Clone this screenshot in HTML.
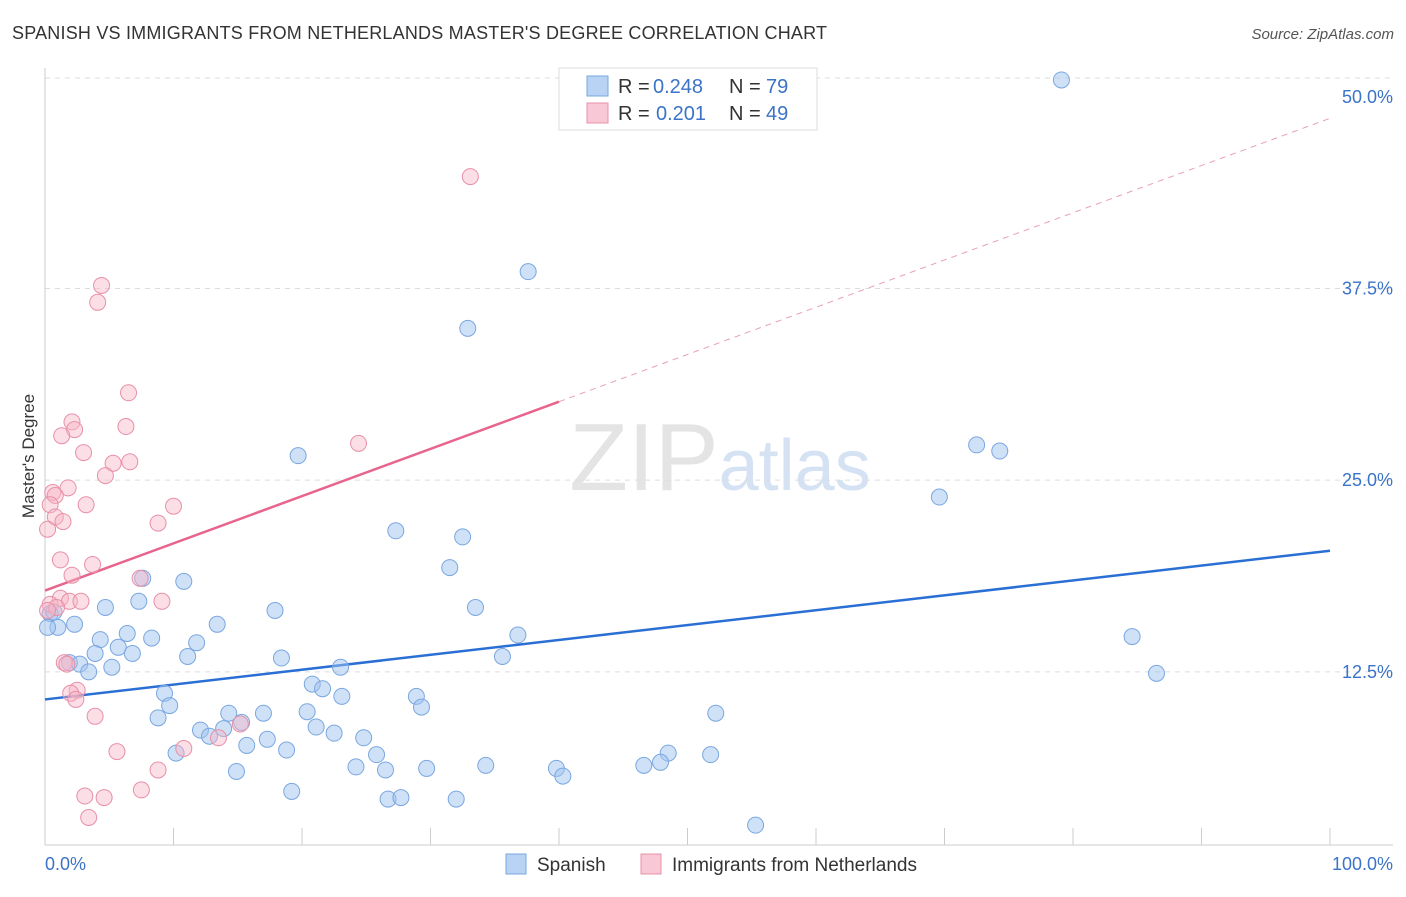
<!DOCTYPE html>
<html><head><meta charset="utf-8"><style>
body{margin:0;background:#fff;font-family:"Liberation Sans",sans-serif;}
svg text{font-family:"Liberation Sans",sans-serif;}
</style></head><body>
<svg id="chart" width="1406" height="892" xmlns="http://www.w3.org/2000/svg">
<text x="12" y="39" font-size="18" fill="#333" textLength="815">SPANISH VS IMMIGRANTS FROM NETHERLANDS MASTER'S DEGREE CORRELATION CHART</text>
<text x="1394" y="39" font-size="15" fill="#555" text-anchor="end" font-style="italic">Source: ZipAtlas.com</text>
<text x="720" y="490" font-size="96" text-anchor="middle" fill="#e4e4e4" font-family="Liberation Serif">ZIP<tspan fill="#d4e2f4" font-family="Liberation Sans" font-size="72">atlas</tspan></text>
<g id="grid"></g><g id="axes"></g><g id="trend"></g><g id="pts"></g>
<text transform="translate(34,456) rotate(-90)" font-size="17" fill="#333" text-anchor="middle">Master's Degree</text>
<g>
<rect x="559" y="68" width="258" height="62" fill="#fff" stroke="#ddd"/>
<rect x="587" y="76" width="21" height="20" fill="#b8d3f4" stroke="#7aa7e0"/>
<rect x="587" y="103" width="21" height="20" fill="#f9c8d6" stroke="#e890a8"/>
<text x="618" y="93" font-size="20" fill="#333">R =</text>
<text x="653" y="93" font-size="20" fill="#3b73c8">0.248</text>
<text x="729" y="93" font-size="20" fill="#333">N =</text>
<text x="766" y="93" font-size="20" fill="#3b73c8">79</text>
<text x="618" y="120" font-size="20" fill="#333">R =</text>
<text x="656" y="120" font-size="20" fill="#3b73c8">0.201</text>
<text x="729" y="120" font-size="20" fill="#333">N =</text>
<text x="766" y="120" font-size="20" fill="#3b73c8">49</text>
</g>
<g>
<rect x="506" y="854" width="20" height="20" fill="#b8d3f4" stroke="#7aa7e0"/>
<text x="537" y="871" font-size="19" fill="#333">Spanish</text>
<rect x="641" y="854" width="20" height="20" fill="#f9c8d6" stroke="#e890a8"/>
<text x="672" y="871" font-size="19" fill="#333">Immigrants from Netherlands</text>
</g>
</svg>
<script>
const blueX=[79.1,37.6,32.9,72.5,74.3,19.7,69.6,27.3,32.5,31.5,7.6,10.8,4.7,7.3,17.9,33.5,0.4,0.7,1.0,2.3,0.2,13.4,6.4,8.3,4.3,11.8,36.8,84.6,5.7,3.9,6.8,11.1,1.9,2.7,3.4,5.2,18.4,23.0,35.6,86.5,20.8,21.6,9.3,23.1,28.9,9.7,29.3,20.4,8.8,17.0,14.3,15.3,21.1,12.1,13.9,22.5,12.8,24.8,17.3,15.7,18.8,25.8,10.2,52.2,48.5,51.8,47.9,46.6,24.2,26.5,29.7,34.3,39.8,40.3,14.9,19.2,26.7,27.7,32.0,55.3];
const blueY=[51.1,38.6,34.9,27.3,26.9,26.6,23.9,21.7,21.3,19.3,18.6,18.4,16.7,17.1,16.5,16.7,16.3,16.4,15.4,15.6,15.4,15.6,15.0,14.7,14.6,14.4,14.9,14.8,14.1,13.7,13.7,13.5,13.1,13.0,12.5,12.8,13.4,12.8,13.5,12.4,11.7,11.4,11.1,10.9,10.9,10.3,10.2,9.9,9.5,9.8,9.8,9.2,8.9,8.7,8.8,8.5,8.3,8.2,8.1,7.7,7.4,7.1,7.2,9.8,7.2,7.1,6.6,6.4,6.3,6.1,6.2,6.4,6.2,5.7,6.0,4.7,4.2,4.3,4.2,2.5];
const pinkX=[33.1,4.4,4.1,6.5,6.3,2.1,2.3,1.3,24.4,3.0,5.3,6.6,4.7,0.6,1.8,0.8,3.2,10.0,0.4,0.8,1.4,8.8,0.2,1.2,3.7,2.1,7.4,1.2,1.9,2.8,9.1,0.4,0.9,0.2,1.5,1.7,2.5,2.0,2.4,3.9,10.8,13.5,15.2,5.6,8.8,7.5,3.1,4.6,3.4];
const pinkY=[44.8,37.7,36.6,30.7,28.5,28.8,28.3,27.9,27.4,26.8,26.1,26.2,25.3,24.2,24.5,24.0,23.4,23.3,23.4,22.6,22.3,22.2,21.8,19.8,19.5,18.8,18.6,17.3,17.1,17.1,17.1,16.9,16.7,16.5,13.1,13.0,11.3,11.1,10.7,9.6,7.5,8.2,9.1,7.3,6.1,4.8,4.4,4.3,3.0];
const blueTrend=[10.7,20.4];
const pinkTrend=[17.8,48.6];
const yTicks=[12.5,25,37.5,50];
const yTickLabels=["12.5%","25.0%","37.5%","50.0%"];
const NS="http://www.w3.org/2000/svg";
const sx=v=>45+v*12.85, sy=v=>863.5-v*15.333;
function mk(t,a,p){const e=document.createElementNS(NS,t);for(const k in a)e.setAttribute(k,a[k]);document.getElementById(p).appendChild(e);return e;}
yTicks.forEach((t,i)=>{if(t<50){const l=mk('line',{x1:45,x2:1393,y1:sy(t),y2:sy(t),stroke:'#ddd','stroke-dasharray':'5,5'},'grid');

}
const tx=mk('text',{x:1393,y:sy(t)+6,'font-size':18,fill:'#3b73c8','text-anchor':'end'},'grid');tx.textContent=yTickLabels[i];

});
const tg=mk('line',{x1:45,x2:1393,y1:78,y2:78,stroke:'#ddd','stroke-dasharray':'5,5'},'grid');


const xa=mk('line',{x1:45,x2:1393,y1:845,y2:845,stroke:'#ccc'},'axes');


const ya=mk('line',{x1:45,x2:45,y1:68,y2:845,stroke:'#ccc'},'axes');


for(let i=1;i<=10;i++){const t=mk('line',{x1:sx(i*10),x2:sx(i*10),y1:828,y2:845,stroke:'#ccc'},'axes');

}
const x0=mk('text',{x:45,y:870,'font-size':18,fill:'#3b73c8'},'axes');x0.textContent='0.0%';


const x1=mk('text',{x:1393,y:870,'font-size':18,fill:'#3b73c8','text-anchor':'end'},'axes');x1.textContent='100.0%';


const pf=x=>pinkTrend[0]+(pinkTrend[1]-pinkTrend[0])*x/100;
const bl=mk('line',{x1:sx(0),y1:sy(blueTrend[0]),x2:sx(100),y2:sy(blueTrend[1]),stroke:'#2a6fd4','stroke-width':2.5},'trend');


const pl=mk('line',{x1:sx(0),y1:sy(pf(0)),x2:sx(40),y2:sy(pf(40)),stroke:'#e8648c','stroke-width':2.5},'trend');


const pd=mk('line',{x1:sx(40),y1:sy(pf(40)),x2:sx(100),y2:sy(pf(100)),stroke:'#e8a0b4','stroke-width':1,'stroke-dasharray':'6,5'},'trend');


blueX.forEach((x,i)=>{const c=mk('circle',{cx:sx(x),cy:sy(blueY[i]),r:8,fill:'rgba(160,196,240,0.5)',stroke:'#7aa7e0','stroke-width':1},'pts');

});
pinkX.forEach((x,i)=>{const c=mk('circle',{cx:sx(x),cy:sy(pinkY[i]),r:8,fill:'rgba(246,182,200,0.45)',stroke:'#e890a8','stroke-width':1},'pts');

});
</script>
</body></html>
